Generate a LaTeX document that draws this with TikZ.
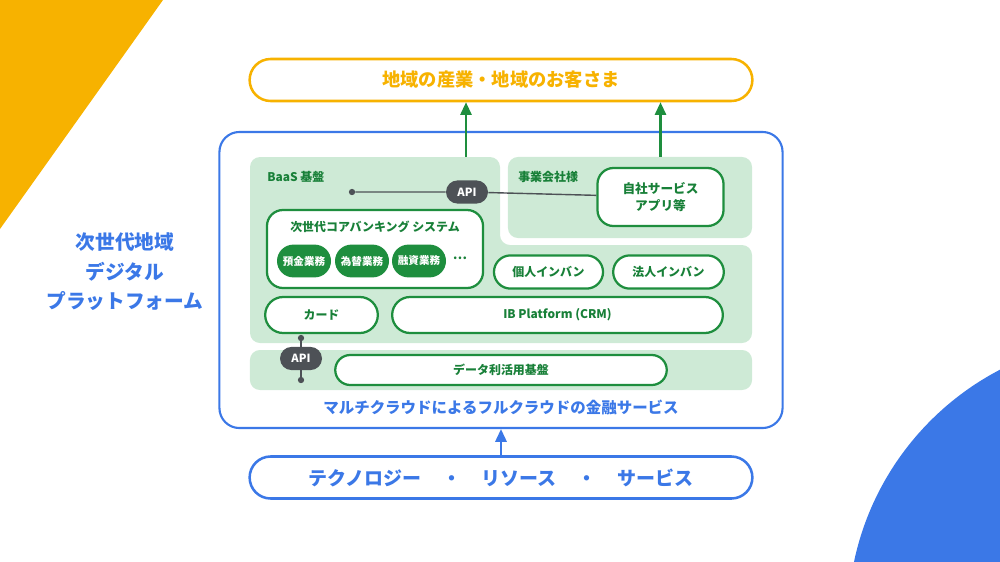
\documentclass[tikz,border=0pt]{standalone}
\usepackage{fontspec}
\setmainfont{Noto Sans CJK JP}
\usetikzlibrary{arrows.meta,shapes.misc}
\definecolor{gblue}{RGB}{59,120,231}
\definecolor{gyellow}{RGB}{247,178,0}
\definecolor{ggreen}{RGB}{30,142,62}
\definecolor{gtext}{RGB}{24,128,56}
\definecolor{gpale}{RGB}{206,234,214}
\definecolor{ggray}{RGB}{77,81,86}
\tikzset{
  outerbox/.style={rounded rectangle, line width=1.8pt, fill=white, minimum width=12.8cm, minimum height=1.05cm, font=\bfseries\fontsize{13}{15}\selectfont},
  panel/.style={fill=gpale, rounded corners=0.25cm},
  svcbox/.style={draw=ggreen, line width=1.6pt, fill=white, text=gtext, font=\bfseries\fontsize{8.5}{12}\selectfont, align=center},
  pillbox/.style={svcbox, rounded rectangle, minimum height=0.83cm},
  opbtn/.style={rounded rectangle, fill=ggreen, text=white, font=\bfseries\fontsize{7.5}{9}\selectfont, minimum width=1.42cm, minimum height=0.82cm, inner sep=1pt},
  apibox/.style={rounded rectangle, fill=ggray, text=white, font=\bfseries\fontsize{8}{10}\selectfont, minimum width=1.12cm, minimum height=0.58cm, inner sep=1pt},
  apidot/.style={circle, fill=ggray, inner sep=0pt, minimum size=4.5pt},
  link/.style={ggray, line width=1pt},
  upar/.style={-{Triangle[length=9pt,width=8pt]}, ggreen, line width=1.5pt},
  panellabel/.style={anchor=west, text=gtext, font=\bfseries\fontsize{8.5}{10}\selectfont, inner sep=0pt},
}

\begin{document}
\begin{tikzpicture}[x=0.025cm, y=-0.025cm]
  \useasboundingbox (0,0) rectangle (1000,561);
  % background shapes
  \fill[gyellow] (0,0) -- (163,0) -- (0,229) -- cycle;
  \fill[gblue] (1130,620) circle (282);

  % top and bottom
  \node[outerbox, draw=gyellow, text=gyellow] (region) at (501,80) {地域の産業・地域のお客さま};
  \node[outerbox, draw=gblue, text=gblue, font=\bfseries\fontsize{13.5}{15}\selectfont] (tech) at (501,477.5)
    {テクノロジー\hspace{1.1em}・\hspace{1.1em}リソース\hspace{1.1em}・\hspace{1.1em}サービス};

  % platform frame
  \node[draw=gblue, line width=1.5pt, rounded corners=0.5cm, minimum width=14.075cm, minimum height=7.4cm] (platform) at (501,280) {};
  \node[text=gblue, font=\bfseries\fontsize{14}{21}\selectfont, align=center] (title) at (125,272) {次世代地域\\デジタル\\プラットフォーム};
  \node[text=gblue, font=\bfseries\fontsize{11}{13}\selectfont] (multi) at (501,407) {マルチクラウドによるフルクラウドの金融サービス};

  % panels
  \fill[panel] (250,157) -- (500,157) -- (500,245) -- (752,245) -- (752,343) -- (250,343) -- cycle;
  \coordinate (baastop) at (466,157);
  \node[panel, minimum width=6.1cm, minimum height=2.025cm] (jigyo) at (630,197.5) {};
  \node[panel, minimum width=12.55cm, minimum height=1cm] (datapanel) at (501,370) {};
  \node[panellabel] (baas) at (267,177) {BaaS 基盤};
  \node[panellabel] (jigyolbl) at (518,177) {事業会社様};

  % BaaS contents
  \node[svcbox, rounded corners=0.4cm, minimum width=5.4cm, minimum height=1.95cm] (core) at (375,249) {};
  \node[text=gtext, font=\bfseries\fontsize{8.5}{10}\selectfont] (coretitle) at (375,227) {次世代コアバンキング システム};
  \node[opbtn] (yokin) at (304,261) {預金業務};
  \node[opbtn] (kawase) at (362,261) {為替業務};
  \node[opbtn] (yushi) at (419,261) {融資業務};
  \node[text=gtext, font=\bfseries\fontsize{9}{10}\selectfont] (more) at (460,258) {…};
  \node[pillbox, minimum width=2.96cm] (kojin) at (548.5,272) {個人インバン};
  \node[pillbox, minimum width=3.0cm] (hojin) at (668.5,272) {法人インバン};
  \node[pillbox, minimum width=3.05cm, minimum height=0.9cm] (card) at (321.5,315) {カード};
  \node[pillbox, minimum width=8.5cm, minimum height=0.9cm] (ibp) at (557.5,315) {IB Platform (CRM)};
  \node[pillbox, minimum width=8.52cm, minimum height=0.75cm] (datakiban) at (501,370) {データ利活用基盤};
  \node[svcbox, rounded corners=0.4cm, minimum width=3.15cm, minimum height=1.45cm, font=\bfseries\fontsize{9}{12.5}\selectfont] (app) at (660.5,197) {自社サービス\\アプリ等};

  % API links
  \node[apidot] (baasdot) at (352,192) {};
  \node[apibox] (api) at (467,192) {API};
  \draw[link] (baasdot) -- (api) -- (app);
  \node[apidot] (cardot) at (301,338) {};
  \node[apidot] (datadot) at (301,380) {};
  \draw[link] (cardot) -- (datadot);
  \node[apibox] (api2) at (301,358.5) {API};

  % arrows
  \draw[upar] (baastop) -- (baastop |- region.south);
  \draw[upar] (app.north |- jigyo.north) -- (app.north |- region.south);
  \draw[upar, gblue] (tech.north) -- (platform.south);
\end{tikzpicture}
\end{document}
